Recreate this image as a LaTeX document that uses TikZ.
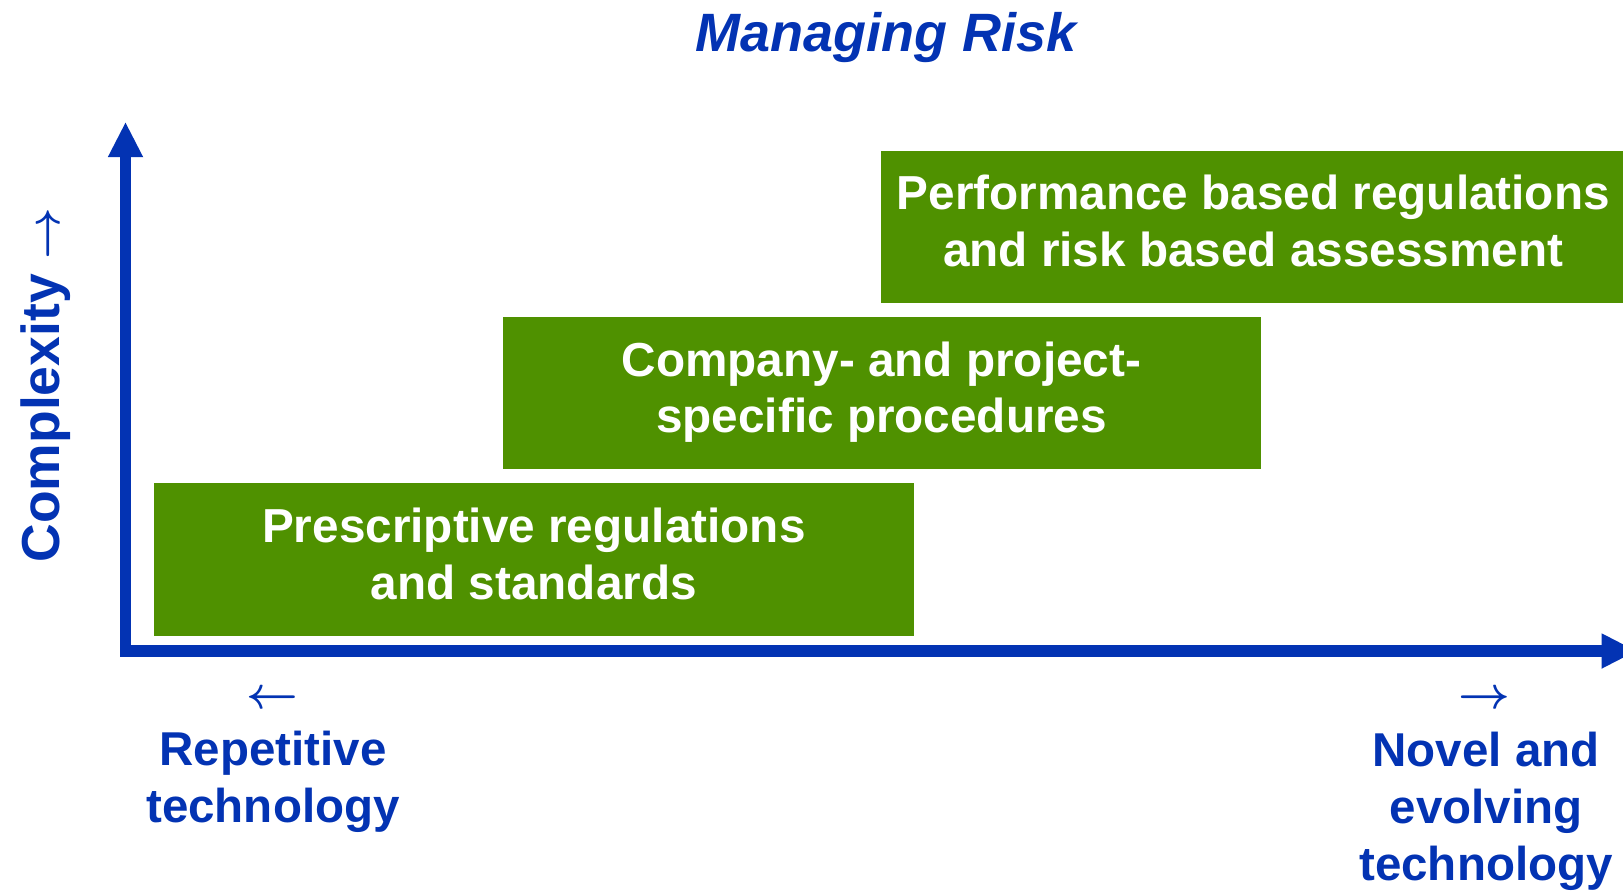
\documentclass[tikz,border=0pt]{standalone}
\usepackage{fix-cm}
\usepackage{fontspec}
\setmainfont{Liberation Sans}
\usetikzlibrary{arrows.meta}
\definecolor{axisblue}{RGB}{3,51,179}
\definecolor{boxgreen}{RGB}{79,145,0}
\tikzset{
  gbox/.style={fill=boxgreen, text=white, inner sep=0pt, font=\bfseries\fontsize{47.7}{56.6}\selectfont},
  axisline/.style={draw=axisblue, line width=11.3pt, line join=miter},
  bluelbl/.style={text=axisblue, inner sep=0pt, font=\bfseries\fontsize{47.5}{57}\selectfont},
  arrowlbl/.style={text=axisblue, inner sep=0pt, font=\fontsize{45}{45}\selectfont\boldmath},
  axtip/.tip={Triangle[width=35.5pt,length=34.5pt,line width=0pt]}
}
\begin{document}
\begin{tikzpicture}[x=1pt,y=-1pt]
\useasboundingbox (0,0) rectangle (1623,891);

% title
\node[text=axisblue, inner sep=0pt, font=\bfseries\itshape\fontsize{54}{60}\selectfont, anchor=base] (title) at (886,51.7) {Managing Risk};

% boxes
\node[gbox, minimum width=759.7, minimum height=152.4] (b1) at (533.85,559.5)
  {\begin{tabular}[t]{@{}c@{}}Prescriptive regulations\\and standards\end{tabular}};
\node[gbox, minimum width=758, minimum height=152] (b2) at (881.5,393.3)
  {\begin{tabular}[t]{@{}c@{}}Company- and project-\\specific procedures\end{tabular}};
\node[gbox, minimum width=745.5, minimum height=152] (b3) at (1253.25,226.7)
  {\begin{tabular}[t]{@{}c@{}}Performance based regulations\\and risk based assessment\end{tabular}};

% axes
\coordinate (O) at (125.5,651);
\coordinate (ytop) at (125.5,122.7);
\coordinate (xend) at (1636,651);
\draw[axisline, axtip-axtip] (ytop) -- (O) -- (xend);

% axis labels
\node[text=axisblue, inner sep=0pt, font=\bfseries\fontsize{53.5}{60}\selectfont, rotate=90, anchor=base] (cx) at (59,385)
  {Complexity {\fontsize{45}{45}\selectfont\boldmath$\rightarrow$}};

\node[arrowlbl, anchor=base] (la) at (272.5,708) {$\leftarrow$};
\node[arrowlbl, anchor=base] (ra) at (1484.5,708) {$\rightarrow$};
\node[bluelbl, anchor=base] (rep) at (273,765.5)
  {\begin{tabular}[t]{@{}c@{}}Repetitive\\technology\end{tabular}};
\node[bluelbl, anchor=base] (nov) at (1486,766)
  {\begin{tabular}[t]{@{}c@{}}Novel and\\evolving\\technology\end{tabular}};
\end{tikzpicture}
\end{document}
